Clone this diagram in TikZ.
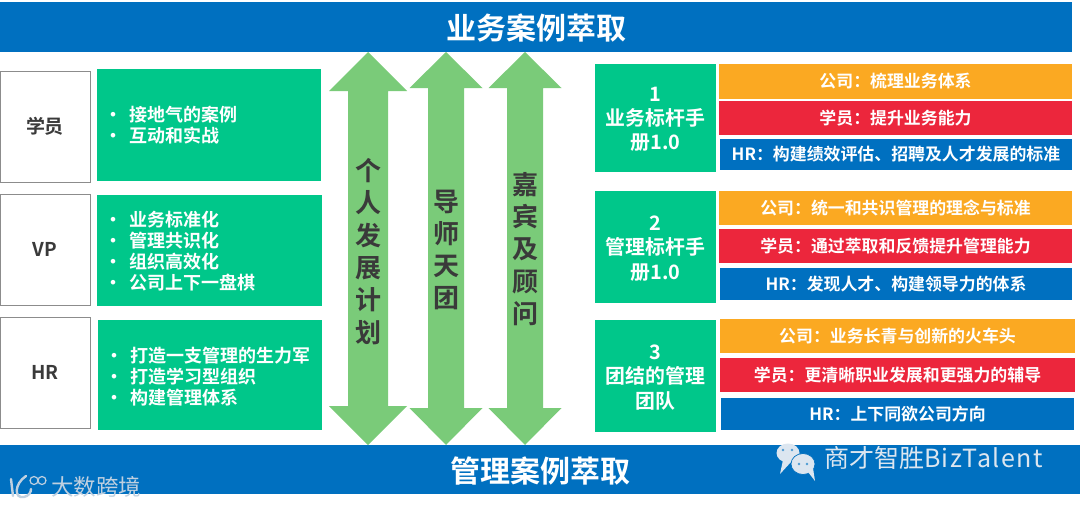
\documentclass[tikz,border=0pt]{standalone}
\usepackage{fontspec}
\newfontfamily\cjkb{Noto Sans CJK SC Bold}
\newfontfamily\cjkr{Noto Sans CJK SC}
\newfontfamily\wmlat[LetterSpace=6]{Noto Sans CJK SC}
\definecolor{barblue}{HTML}{0070C0}
\definecolor{boxgreen}{HTML}{00C78A}
\definecolor{arrgreen}{HTML}{7ACB79}
\definecolor{oran}{HTML}{FBA922}
\definecolor{redd}{HTML}{EC263C}
\definecolor{darkt}{HTML}{3A3A3A}
\definecolor{wm}{HTML}{DCE6F0}
\definecolor{wmb}{HTML}{BFD0E0}
\tikzset{
  base/.style={rectangle,inner sep=0pt,outer sep=0pt,align=center},
  bar/.style={base,fill=barblue,text=white,font=\cjkb\fontsize{30}{34}\selectfont},
  rolebox/.style={base,fill=white,draw=black!45,line width=1pt,text=darkt,font=\cjkb\fontsize{19}{22}\selectfont},
  listbox/.style={base,fill=boxgreen,text=white,align=left,inner xsep=11pt,font=\cjkb\fontsize{18}{21}\selectfont},
  handbook/.style={base,fill=boxgreen,text=white,font=\cjkb\fontsize{19.9}{24.3}\selectfont},
  strip/.style={base,text=white,font=\cjkb\fontsize{16.9}{20}\selectfont},
  co/.style={strip,fill=oran},
  st/.style={strip,fill=redd},
  hr/.style={strip,fill=barblue},
  dblarrow/.style={fill=arrgreen},
  vlabel/.style={base,text=darkt,font=\cjkb\fontsize{26}{32.3}\selectfont},
  wmark/.style={base,text=wm,font=\cjkr\fontsize{25}{28}\selectfont},
  wmshape/.style={fill=wm,draw=none}
}
% name, style, x0, y0, x1, y1, text
\newcommand\bx[7]{\node[#2,minimum width={(#5-#3)*1pt},minimum height={(#6-#4)*1pt}] (#1) at ({(#3+#5)/2},{(#4+#6)/2}) {#7};}
% same, with the text in its own node, dy lower than the centre of the box
\newcommand\bxd[8]{\node[#2,minimum width={(#5-#3)*1pt},minimum height={(#6-#4)*1pt}] (#1) at ({(#3+#5)/2},{(#4+#6)/2}) {};
  \node[#2,fill=none] (#1t) at ({(#3+#5)/2},{(#4+#6)/2+#7}) {#8};}
% double arrow: cx, half head, half shaft, tip top, head top base, head bottom base, tip bottom
\newcommand\dbl[7]{\fill[dblarrow] (#1,#4) -- ({#1+#2},#5) -- ({#1+#3},#5) -- ({#1+#3},#6) -- ({#1+#2},#6) -- (#1,#7) -- ({#1-#2},#6) -- ({#1-#3},#6) -- ({#1-#3},#5) -- ({#1-#2},#5) -- cycle;}
\newcommand\li[1]{\makebox[22pt][l]{\hspace*{-3.5pt}•}#1}
\begin{document}
\begin{tikzpicture}[x=1pt,y=-1pt]
\useasboundingbox (0,0) rectangle (1080,506);
\fill[white] (0,0) rectangle (1080,506);
% bars
\bx{top}{bar}{0}{2}{1072}{52}{}
\node[base,text=white,font=\cjkb\fontsize{30}{34}\selectfont] (toptext) at (536,28) {业务案例萃取};
\bx{bottom}{bar}{0}{445}{1080}{494}{}
\node[base,text=white,font=\cjkb\fontsize{30}{34}\selectfont] (bottomtext) at (540,471) {管理案例萃取};
% left column
\bx{r1}{rolebox}{0}{71}{90}{182}{学员}
\bx{r2}{rolebox}{0}{194}{90}{305}{VP}
\bx{r3}{rolebox}{0}{317}{90}{428}{HR}
\bx{l1}{listbox,text width=202pt}{97}{69}{321}{181}{\li{接地气的案例}\\\li{互动和实战}}
\bxd{l2}{listbox,text width=203pt}{97}{195}{322}{306}{1}{\li{业务标准化}\\\li{管理共识化}\\\li{组织高效化}\\\li{公司上下一盘棋}}
\bxd{l3}{listbox,text width=202pt}{98}{320}{322}{430}{1.5}{\li{打造一支管理的生力军}\\\li{打造学习型组织}\\\li{构建管理体系}}
% arrows
\dbl{368}{39}{20}{52}{91}{406}{445}
\dbl{446}{36.5}{18}{52}{88}{408}{445}
\dbl{525}{36.5}{18}{52}{88}{408}{445}
\node[vlabel,text width=30pt] (a1) at (368,251.5) {个\\人\\发\\展\\计\\划};
\node[vlabel,text width=30pt] (a2) at (446,250) {导\\师\\天\\团};
\node[vlabel,text width=30pt] (a3) at (525,249) {嘉\\宾\\及\\顾\\问};
% right column
\bxd{h1}{handbook}{595}{64}{716}{172}{1.5}{1\\业务标杆手\\册1.0}
\bxd{h2}{handbook}{595}{191}{716}{303}{1.5}{2\\管理标杆手\\册1.0}
\bxd{h3}{handbook}{595}{320}{716}{432}{1.5}{3\\团结的管理\\团队}
\bx{c1}{co}{719}{64}{1072}{99}{公司：梳理业务体系}
\bx{s1}{st}{719}{101}{1072}{135}{学员：提升业务能力}
\bx{b1}{hr}{720}{139}{1072}{170}{HR：构建绩效评估、招聘及人才发展的标准}
\bx{c2}{co}{719}{191}{1072}{225}{公司：统一和共识管理的理念与标准}
\bx{s2}{st}{719}{229}{1072}{263}{学员：通过萃取和反馈提升管理能力}
\bx{b2}{hr}{720}{268}{1072}{300}{HR：发现人才、构建领导力的体系}
\bx{c3}{co}{720}{319}{1075}{353}{公司：业务长青与创新的火车头}
\bx{s3}{st}{720}{358}{1075}{392}{学员：更清晰职业发展和更强力的辅导}
\bx{b3}{hr}{721}{398}{1074}{430}{HR：上下同欲公司方向}
% watermark right
\fill[wmshape] (788,453) ellipse (11.5 and 9.5);
\fill[wmshape] (783,460) -- (780,474) -- (791,462) -- cycle;
\fill[wmshape,draw=barblue,line width=0.7pt] (803,464) ellipse (12 and 10.5);
\fill[wmshape] (808,472) -- (815,481) -- (813,468) -- cycle;
\fill[barblue!70] (783,450) circle (1.4) (792,450) circle (1.4) (799,464) circle (1.3) (807,464) circle (1.3);
\node[wmark,anchor=west] (wm1) at (824,458) {商才智胜{\wmlat BizTalent}};
% watermark left
\draw[wmb,line width=2.4pt,line cap=round] (11,479) -- (13,496);
\draw[wmb,line width=2.4pt,line cap=round] (26,476) .. controls (14,484) and (14,499) .. (24,497) .. controls (29,496) and (31,492) .. (31,489);
\draw[wmb,line width=1.2pt] (34,480.5) ellipse (4 and 4) (42,480.5) ellipse (4 and 4);
\node[base,text=wmb,font=\cjkr\fontsize{22.5}{24}\selectfont,anchor=west] (wm2) at (51,487) {大数跨境};
\end{tikzpicture}
\end{document}
